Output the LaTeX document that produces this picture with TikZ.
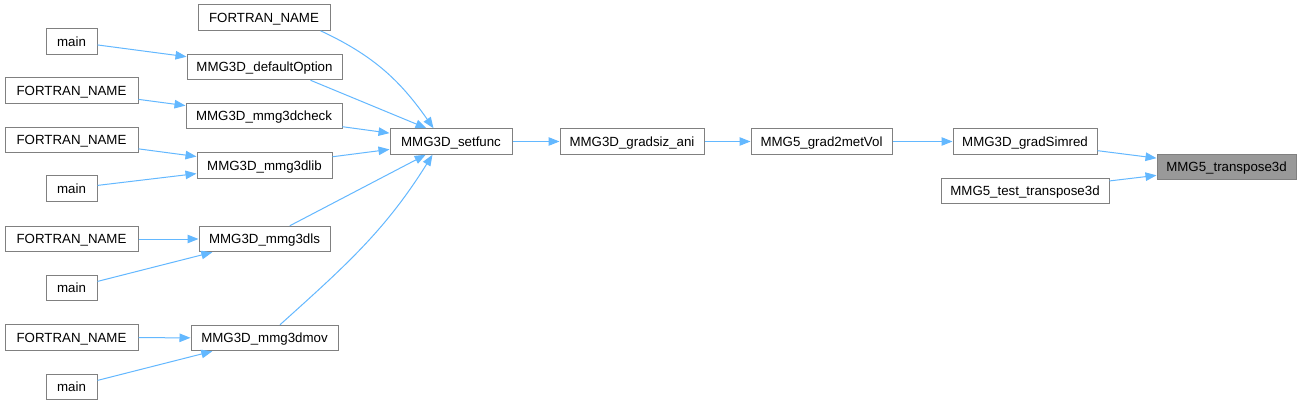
\documentclass[tikz,border=0pt]{standalone}
\usepackage{fontspec}
\setmainfont{Liberation Sans}
\usetikzlibrary{arrows.meta}
\definecolor{edgeblue}{HTML}{63B8FF}
\definecolor{boxgray}{HTML}{808080}
\definecolor{curfill}{HTML}{999999}
\begin{document}
\begin{tikzpicture}[x=1pt,y=-1pt,
  box/.style={draw=boxgray,line width=1pt,fill=white,rectangle,minimum height=25.5pt,inner sep=0pt,text height=9.6pt,text depth=0pt,font=\fontsize{13.3}{16}\selectfont},
  cur/.style={box,fill=curfill},
  edge/.style={draw=edgeblue,line width=1pt,-{Triangle[length=11pt,width=8.5pt]}}]
\fill[white] (0,0) rectangle (1301,405);
\useasboundingbox (0,0) rectangle (1301,405);
% nodes
\node[box,minimum width=132pt] (f1) at (264,17.5) {FORTRAN\_NAME};
\node[box,minimum width=51pt] (m1) at (71.5,41.5) {main};
\node[box,minimum width=155pt] (defopt) at (264.5,67) {MMG3D\_defaultOption};
\node[box,minimum width=133pt] (f2) at (71.5,90.5) {FORTRAN\_NAME};
\node[box,minimum width=156pt] (check) at (264,116) {MMG3D\_mmg3dcheck};
\node[box,minimum width=133pt] (f3) at (71.5,140) {FORTRAN\_NAME};
\node[box,minimum width=135pt] (lib) at (264.5,165.5) {MMG3D\_mmg3dlib};
\node[box,minimum width=51pt] (m2) at (71.5,188.5) {main};
\node[box,minimum width=122pt] (setf) at (451,141.5) {MMG3D\_setfunc};
\node[box,minimum width=133pt] (f4) at (71.5,239) {FORTRAN\_NAME};
\node[box,minimum width=131pt] (ls) at (264.5,239) {MMG3D\_mmg3dls};
\node[box,minimum width=51pt] (m3) at (71.5,288) {main};
\node[box,minimum width=133pt] (f5) at (71.5,337.5) {FORTRAN\_NAME};
\node[box,minimum width=147pt] (mov) at (264.5,338) {MMG3D\_mmg3dmov};
\node[box,minimum width=51pt] (m4) at (71.5,387) {main};
\node[box,minimum width=144pt] (grad) at (632,141.5) {MMG3D\_gradsiz\_ani};
\node[box,minimum width=141pt] (g2m) at (821.5,141.5) {MMG5\_grad2metVol};
\node[box,minimum width=144pt] (simred) at (1025,141.5) {MMG3D\_gradSimred};
\node[cur,minimum width=139pt] (tr) at (1226.5,167) {MMG5\_transpose3d};
\node[box,minimum width=168pt] (test) at (1025,191) {MMG5\_test\_transpose3d};
% edges
\draw[edge] ([xshift=-10pt]f1.south east) to[out=-25,in=125] ([xshift=44pt]setf.north west);
\draw[edge] (m1) -- (defopt);
\draw[edge] ([xshift=-32pt]defopt.south east) -- ([xshift=37pt]setf.north west);
\draw[edge] (f2) -- (check);
\draw[edge] (check) -- (setf);
\draw[edge] (f3) -- (lib);
\draw[edge] (m2) -- (lib);
\draw[edge] (lib) -- (setf);
\draw[edge] (ls) -- (setf);
\draw[edge] ([xshift=15.5pt]mov.north) to[out=42,in=-122] ([xshift=43pt]setf.south west);
\draw[edge] (f4) -- (ls);
\draw[edge] (m3) -- (ls);
\draw[edge] (f5) -- (mov);
\draw[edge] (m4) -- (mov);
\draw[edge] (setf) -- (grad);
\draw[edge] (grad) -- (g2m);
\draw[edge] (g2m) -- (simred);
\draw[edge] (simred) -- (tr);
\draw[edge] (test) -- (tr);
\end{tikzpicture}
\end{document}
